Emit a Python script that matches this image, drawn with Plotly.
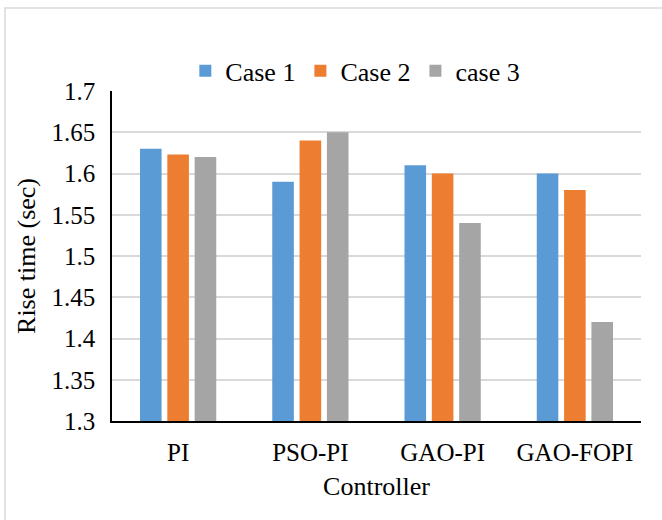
import plotly.graph_objects as go

categories = ["PI", "PSO-PI", "GAO-PI", "GAO-FOPI"]
case1 = [1.63, 1.59, 1.61, 1.60]
case2 = [1.623, 1.64, 1.60, 1.58]
case3 = [1.62, 1.65, 1.54, 1.42]
series_names = ["Case 1", "Case 2", "case 3"]
colors = ["#5B9BD5", "#ED7D31", "#A5A5A5"]
y_ticks = [1.3, 1.35, 1.4, 1.45, 1.5, 1.55, 1.6, 1.65, 1.7]
y_tick_text = ["1.3", "1.35", "1.4", "1.45", "1.5", "1.55", "1.6", "1.65", "1.7"]

FONT = "Liberation Serif"

fig = go.Figure()
for name, vals, col in zip(series_names, [case1, case2, case3], colors):
    fig.add_trace(go.Bar(x=categories, y=vals, name=name, marker_color=col,
                         marker_line_width=0))

fig.update_layout(
    width=662, height=520,
    margin=dict(l=112, r=21, t=91, b=99),
    plot_bgcolor="white", paper_bgcolor="white",
    barmode="group", bargap=0.38, bargroupgap=0.21,
    font=dict(family=FONT, size=25, color="#000000"),
    legend=dict(orientation="h", x=0.46, xanchor="center", y=0.99, yanchor="bottom",
                font=dict(family=FONT, size=26), itemwidth=30, tracegroupgap=0,
                traceorder="normal", bgcolor="rgba(0,0,0,0)"),
    showlegend=True,
)
fig.update_xaxes(
    showline=True, linecolor="black", linewidth=1.5, mirror=False,
    showgrid=False, ticks="", ticklabelstandoff=8,
    title=dict(text="Controller", font=dict(family=FONT, size=26), standoff=12),
    tickfont=dict(family=FONT, size=25),
)
fig.update_yaxes(
    range=[1.3, 1.7], tickvals=y_ticks, ticktext=y_tick_text,
    showline=True, linecolor="black", linewidth=1.5,
    showgrid=True, gridcolor="#D9D9D9", gridwidth=1.5,
    zeroline=False, ticks="", ticklabelstandoff=10,
    title=dict(text="Rise time (sec)", font=dict(family=FONT, size=26), standoff=8),
    tickfont=dict(family=FONT, size=25),
)
fig.add_shape(type="rect", xref="paper", yref="paper",
              x0=(5 - 112) / 529, x1=1.2, y0=-0.5, y1=(421 - 8) / 330,
              line=dict(color="#D9D9D9", width=1.5), fillcolor="rgba(0,0,0,0)", layer="below")

fig.write_html("out.html")
